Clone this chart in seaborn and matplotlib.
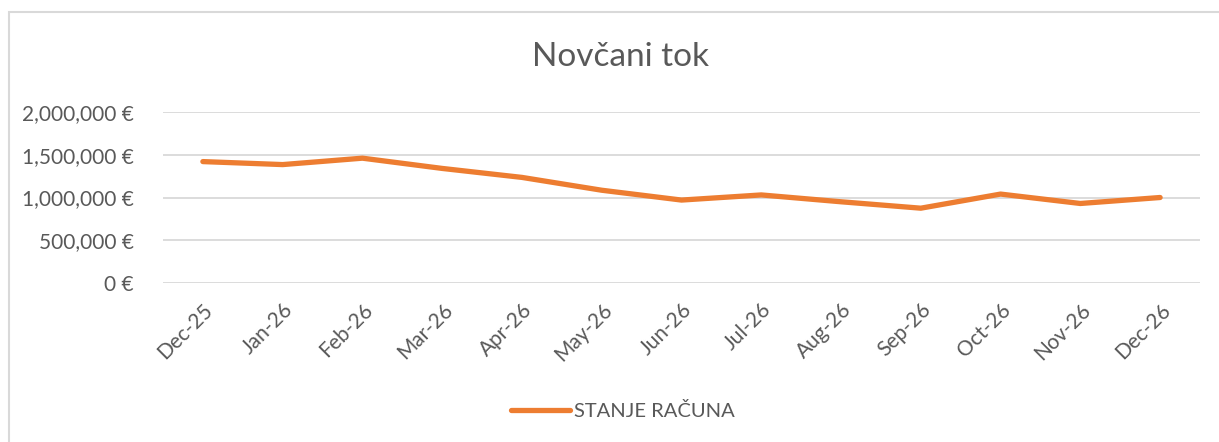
import matplotlib
matplotlib.use('Agg')
import matplotlib.pyplot as plt
import seaborn as sns
import pandas as pd
from matplotlib.patches import Rectangle
from matplotlib.ticker import FuncFormatter

months = ['Dec-25', 'Jan-26', 'Feb-26', 'Mar-26', 'Apr-26', 'May-26', 'Jun-26',
          'Jul-26', 'Aug-26', 'Sep-26', 'Oct-26', 'Nov-26', 'Dec-26']
balance = [1420000, 1385000, 1460000, 1340000, 1235000, 1085000, 970000,
           1030000, 950000, 875000, 1040000, 930000, 1000000]
y_ticks = [0, 500000, 1000000, 1500000, 2000000]

df = pd.DataFrame({'month': months, 'balance': balance})

sns.set_theme(style="white")
plt.rcParams['font.family'] = ['Lato', 'DejaVu Sans']

text_color = '#595959'
grid_color = '#D9D9D9'
orange = '#ED7D31'

fig = plt.figure(figsize=(12.19, 4.42), dpi=100)
ax = fig.add_axes([163 / 1219, 1 - 283 / 442, (1200 - 163) / 1219, (283 - 112) / 442])

sns.lineplot(data=df, x='month', y='balance', sort=False, color=orange,
             linewidth=3.8, solid_capstyle='round', solid_joinstyle='round',
             label='STANJE RAČUNA', ax=ax, zorder=3)

ax.set_xlim(-0.5, len(months) - 0.5)
ax.set_ylim(0, 2000000)
ax.set_yticks(y_ticks)
ax.yaxis.set_major_formatter(FuncFormatter(lambda v, p: f'{int(v):,} €'))
ax.grid(axis='y', color=grid_color, linewidth=1.3)
ax.set_axisbelow(True)
for s in ax.spines.values():
    s.set_visible(False)
ax.set_xlabel('')
ax.set_ylabel('')
ax.tick_params(axis='both', length=0, colors=text_color, labelsize=15)
ax.tick_params(axis='y', pad=21)
ax.tick_params(axis='x', pad=12)
for lbl in ax.get_xticklabels():
    lbl.set_rotation(45)
    lbl.set_ha('right')
    lbl.set_rotation_mode('anchor')

ax.get_legend().remove()
handles, labels = ax.get_legend_handles_labels()
fig.legend(handles, labels, loc='center', bbox_to_anchor=(623 / 1219, 1 - 411 / 442),
           frameon=False, fontsize=14.5, labelcolor=text_color,
           handlelength=2.9, handletextpad=0.2)

fig.text(620 / 1219, 1 - 57 / 442, 'Novčani tok', ha='center', va='center',
         fontsize=24, color=text_color)

# chart frame: only left and top edges fall inside the image
fig.patches.append(Rectangle((8.5 / 1219, -0.1), 1.2, 1.1 - 12.5 / 442,
                             transform=fig.transFigure, fill=False,
                             edgecolor=grid_color, linewidth=1.5))

fig.savefig('out.png', dpi=100)
